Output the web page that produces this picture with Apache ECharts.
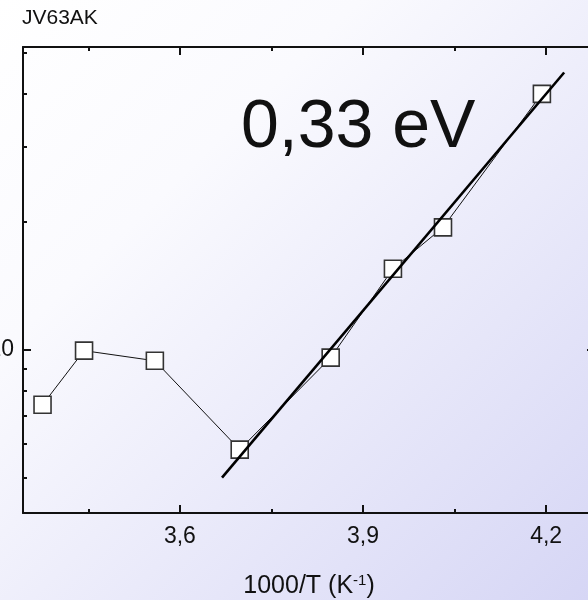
<!DOCTYPE html>
<html>
<head>
<meta charset="utf-8">
<script src="https://cdn.jsdelivr.net/npm/echarts@6/dist/echarts.min.js"></script>
<style>
  html, body { margin: 0; padding: 0; }
  #chart { width: 588px; height: 600px; }
</style>
</head>
<body>
<div id="chart"></div>
<script>
// measured points, 1000/T vs signal (log scale)
const invT = [3.375, 3.443, 3.559, 3.698, 3.847, 3.949, 4.031, 4.193];
const signal = [7.42, 9.95, 9.42, 5.82, 9.58, 15.5, 19.4, 40.0];

// Arrhenius fit line end points
const fitX = [3.669, 4.2295];
const fitY = [5.0, 44.9];

const xMajor = [3.6, 3.9, 4.2];
const xMinor = [3.45, 3.75, 4.05];
const yMajor = [10];
const yMinor = [5, 6, 7, 8, 9, 20, 30, 40, 50];

const font = "Arial, 'Liberation Sans', sans-serif";
const ink = "#111";

const xMin = 3.343, xMax = 4.28;
const yMin = 4.129, yMax = 51.55;

const fmt = v => String(v).replace(".", ",");

const xBase = {
  type: "value",
  min: xMin,
  max: xMax,
  splitLine: { show: false },
};
const yBase = {
  type: "log",
  logBase: 10,
  min: yMin,
  max: yMax,
  splitLine: { show: false },
  minorTick: { show: false },
};

const option = {
  backgroundColor: new echarts.graphic.LinearGradient(0, 0, 1, 1, [
    { offset: 0, color: "#ffffff" },
    { offset: 0.3, color: "#fafafe" },
    { offset: 1, color: "#d6d6f5" },
  ]),
  animation: false,
  title: {
    text: "JV63AK",
    left: 22,
    top: 8,
    padding: 0,
    textStyle: { fontFamily: font, fontSize: 21, fontWeight: "normal", color: ink },
  },
  grid: { left: 23, top: 47, right: -7, bottom: 87, containLabel: false, outerBoundsMode: "none" },
  xAxis: [
    {
      ...xBase,
      position: "bottom",
      name: "{a|1000/T (K}{s|-1}{a|)}",
      nameLocation: "middle",
      nameGap: 60,
      nameTextStyle: {
        rich: {
          a: { fontFamily: font, fontSize: 25, color: ink },
          s: { fontFamily: font, fontSize: 15, color: ink, verticalAlign: "top", padding: [0, 0, 12, 0] },
        },
      },
      axisLine: { show: true, onZero: false, lineStyle: { color: ink, width: 2 } },
      axisTick: { show: true, inside: true, length: 8, customValues: xMajor, lineStyle: { color: ink, width: 2 } },
      axisLabel: {
        customValues: xMajor,
        formatter: fmt,
        margin: 12,
        fontFamily: font,
        fontSize: 23,
        color: ink,
      },
    },
    {
      ...xBase,
      position: "bottom",
      axisLine: { show: false },
      axisTick: { show: true, inside: true, length: 4, customValues: xMinor, lineStyle: { color: ink, width: 2 } },
      axisLabel: { show: false },
    },
    {
      ...xBase,
      position: "top",
      axisLine: { show: true, onZero: false, lineStyle: { color: ink, width: 2 } },
      axisTick: { show: true, inside: true, length: 8, customValues: xMajor, lineStyle: { color: ink, width: 2 } },
      axisLabel: { show: false },
    },
    {
      ...xBase,
      position: "top",
      axisLine: { show: false },
      axisTick: { show: true, inside: true, length: 4, customValues: xMinor, lineStyle: { color: ink, width: 2 } },
      axisLabel: { show: false },
    },
  ],
  yAxis: [
    {
      ...yBase,
      position: "left",
      axisLine: { show: true, onZero: false, lineStyle: { color: ink, width: 2 } },
      axisTick: { show: true, inside: true, length: 8, customValues: yMajor, lineStyle: { color: ink, width: 2 } },
      axisLabel: {
        customValues: yMajor,
        margin: 9,
        fontFamily: font,
        fontSize: 23,
        color: ink,
      },
    },
    {
      ...yBase,
      position: "left",
      axisLine: { show: false },
      axisTick: { show: true, inside: true, length: 4, customValues: yMinor, lineStyle: { color: ink, width: 2 } },
      axisLabel: { show: false },
    },
    {
      ...yBase,
      position: "right",
      axisLine: { show: true, onZero: false, lineStyle: { color: ink, width: 2 } },
      axisTick: { show: true, inside: true, length: 8, customValues: yMajor, lineStyle: { color: ink, width: 2 } },
      axisLabel: { show: false },
    },
  ],
  graphic: [
    {
      type: "text",
      left: 241,
      top: 94,
      style: {
        text: "0,33 eV",
        font: "68px " + font,
        fill: ink,
      },
      z: 10,
    },
  ],
  series: [
    {
      type: "line",
      data: invT.map((x, i) => [x, signal[i]]),
      xAxisIndex: 0,
      yAxisIndex: 0,
      symbol: "rect",
      symbolSize: 17,
      showSymbol: true,
      lineStyle: { color: ink, width: 1 },
      itemStyle: { color: "#ffffff", borderColor: "#333", borderWidth: 1.6 },
      z: 2,
    },
    {
      type: "line",
      data: fitX.map((x, i) => [x, fitY[i]]),
      xAxisIndex: 0,
      yAxisIndex: 0,
      symbol: "none",
      lineStyle: { color: "#000", width: 2.6 },
      z: 3,
    },
  ],
};

const myChart = echarts.init(document.getElementById("chart"));
myChart.setOption(option);
</script>
</body>
</html>
